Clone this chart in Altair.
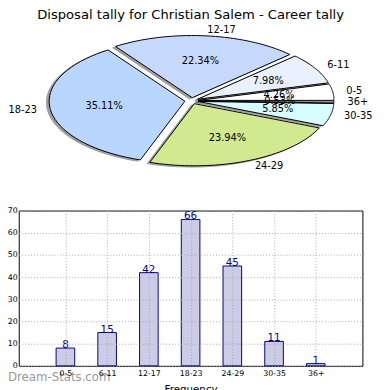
import json
import altair as alt
import pandas as pd

# ---------------- data ----------------
chart_title = "Disposal tally for Christian Salem - Career tally"
categories = ["0-5", "6-11", "12-17", "18-23", "24-29", "30-35", "36+"]
counts = [8, 15, 42, 66, 45, 11, 1]
y_ticks = [0, 10, 20, 30, 40, 50, 60, 70]
x_title = "Frequency"
watermark = "Dream-Stats.com"

# ---------------- style ----------------
pie_colors = ["#ffffff", "#eaf1fe", "#c6d9fd", "#b9d7fe", "#d1e98f", "#d7fdfe", "#dcdcdc"]
FONT = "DejaVu Sans"
PLOT_W, PLOT_H = 351, 158.6            # bar plot area (page x 19..370, y 210.7..369.3)
PIE_X = [195.5 - 138.6 - 19, 195.5 + 138.6 - 19]
PIE_Y = [98.6 + 63.5 - 210.7, 98.6 - 63.5 - 210.7]
EXPLODE = 0.05

df = pd.DataFrame({"cat": categories, "value": counts, "idx": list(range(len(categories)))})

xs = alt.Scale(domain=[-1, 1], range=PIE_X, nice=False, zero=False)
ys = alt.Scale(domain=[-1, 1], range=PIE_Y, nice=False, zero=False)

pie_base = (
    alt.Chart(df)
    .transform_joinaggregate(total="sum(value)")
    .transform_window(cum="sum(value)", sort=[alt.SortField("idx")], frame=[None, 0])
    .transform_calculate(
        a0="2*PI*(datum.cum - datum.value)/datum.total",
        a1="2*PI*datum.cum/datum.total",
    )
    .transform_calculate(mid="(datum.a0 + datum.a1)/2")
    .transform_calculate(
        ex=f"{EXPLODE}*cos(datum.mid)",
        ey=f"{EXPLODE}*sin(datum.mid)",
    )
)

wedges = (
    pie_base.transform_calculate(pts="sequence(-1, 41)")
    .transform_flatten(["pts"], as_=["k"])
    .transform_calculate(
        ang="datum.a0 + (datum.a1 - datum.a0)*max(datum.k, 0)/40",
        rr="datum.k < 0 ? 0 : 1",
    )
    .transform_calculate(
        px="datum.ex + datum.rr*cos(datum.ang)",
        py="datum.ey + datum.rr*sin(datum.ang)",
    )
)

shadow = wedges.transform_calculate(
    sx="datum.px - 0.02", sy="datum.py - 0.02"
).mark_line(
    interpolate="linear-closed", stroke="#404040", strokeWidth=1, opacity=0.5
).encode(
    x=alt.X("sx:Q", scale=xs, axis=None),
    y=alt.Y("sy:Q", scale=ys, axis=None),
    fill=alt.value("#404040"),
    order=alt.Order("k:Q"),
    detail="cat:N",
)

wedge_layer = wedges.mark_line(
    interpolate="linear-closed", stroke="black", strokeWidth=1
).encode(
    x=alt.X("px:Q", scale=xs, axis=None),
    y=alt.Y("py:Q", scale=ys, axis=None),
    fill=alt.Fill("cat:N", scale=alt.Scale(domain=categories, range=pie_colors), legend=None),
    order=alt.Order("k:Q"),
    detail="cat:N",
)

labels = pie_base.transform_calculate(
    lx="datum.ex + 1.1*cos(datum.mid)",
    ly="datum.ey + 1.1*sin(datum.mid)",
    qx="datum.ex + 0.6*cos(datum.mid)",
    qy="datum.ey + 0.6*sin(datum.mid)",
    pct="format(100*datum.value/datum.total, '.2f') + '%'",
)

lab_right = labels.transform_filter("cos(datum.mid) > 0").mark_text(
    align="left", baseline="middle", font=FONT, fontSize=10, color="black"
).encode(
    x=alt.X("lx:Q", scale=xs, axis=None),
    y=alt.Y("ly:Q", scale=ys, axis=None),
    text="cat:N",
)
lab_left = labels.transform_filter("cos(datum.mid) <= 0").mark_text(
    align="right", baseline="middle", font=FONT, fontSize=10, color="black"
).encode(
    x=alt.X("lx:Q", scale=xs, axis=None),
    y=alt.Y("ly:Q", scale=ys, axis=None),
    text="cat:N",
)
pct_layer = labels.mark_text(
    align="center", baseline="middle", font=FONT, fontSize=10, color="black"
).encode(
    x=alt.X("qx:Q", scale=xs, axis=None),
    y=alt.Y("qy:Q", scale=ys, axis=None),
    text="pct:N",
)

pie_group = alt.layer(shadow, wedge_layer, lab_right, lab_left, pct_layer)

# ---------------- bar chart ----------------
label_expr = json.dumps(categories) + "[datum.value]"
bx = alt.Scale(domain=[-1, len(categories)], nice=False, zero=False)
by = alt.Scale(domain=[0, 70], nice=False)

x_axis = alt.Axis(
    values=list(range(len(categories))), labelExpr=label_expr, title=x_title,
    grid=True, gridDash=[1, 2], gridColor="#a8a8a8", domain=False, ticks=False, tickSize=0,
    labelFont=FONT, labelFontSize=8, labelColor="black", labelPadding=4,
    titleFont=FONT, titleFontSize=10.5, titleFontWeight="normal", titleColor="black",
    titlePadding=7, zindex=1, labelFlush=False,
)
y_axis = alt.Axis(
    values=y_ticks, title=None, grid=True, gridDash=[1, 2], gridColor="#a8a8a8",
    domain=False, ticks=False, tickSize=0, labelFont=FONT, labelFontSize=8,
    labelColor="black", labelPadding=1.5, zindex=1, labelFlush=False,
)

bars = alt.Chart(df).mark_bar(
    size=19, fill="#ccccE6", stroke="#000080", strokeWidth=1
).encode(
    x=alt.X("idx:Q", scale=bx, axis=x_axis),
    y=alt.Y("value:Q", scale=by, axis=y_axis),
)

bar_text = alt.Chart(df).mark_text(
    baseline="alphabetic", align="center", font=FONT, fontSize=10.5, color="#000080"
).encode(
    x=alt.X("idx:Q", scale=bx, axis=x_axis),
    y=alt.Y("value:Q", scale=by, axis=y_axis),
    text="value:Q",
)

bar_group = alt.layer(bars, bar_text)

mark_wm = alt.Chart(pd.DataFrame({"t": [watermark]})).mark_text(
    align="left", baseline="middle", font=FONT, fontSize=12, color="#999999"
).encode(x=alt.value(-11), y=alt.value(170), text="t:N")

chart = (
    alt.layer(bar_group, pie_group, mark_wm)
    .resolve_scale(x="independent", y="independent")
    .properties(
        width=PLOT_W,
        height=PLOT_H,
        title=alt.TitleParams(
            chart_title, anchor="middle", font=FONT, fontSize=13.4, fontWeight="normal",
            color="black", offset=3, frame="group",
        ),
        autosize=alt.AutoSizeParams(type="none"),
        padding={"left": 11, "top": 202.7, "right": 20, "bottom": 30},
    )
    .configure_view(stroke="black", strokeWidth=1)
)

chart.save("out.html", embed_options={"renderer": "svg", "actions": False})
